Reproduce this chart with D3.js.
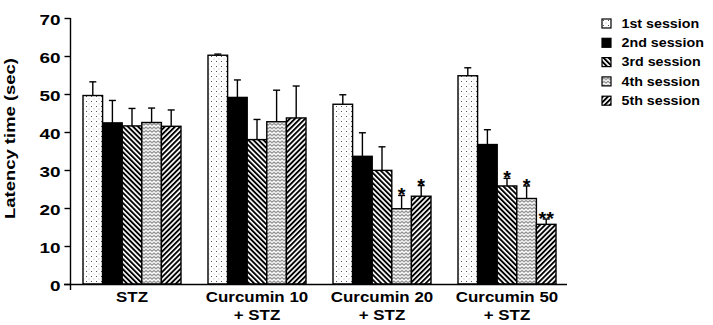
<!DOCTYPE html>
<html>
<head>
<meta charset="utf-8">
<script src="https://cdn.jsdelivr.net/npm/d3@7/dist/d3.min.js"></script>
<style>
  html, body { margin: 0; padding: 0; background: #fff; }
  svg { display: block; }
  text { font-family: "Liberation Sans", Arial, Helvetica, sans-serif; font-weight: bold; fill: #000; }
</style>
</head>
<body>
<svg id="chart" width="713" height="325"></svg>
<script>
// Treatment groups (x categories), two label lines each
const groups = ["STZ", "Curcumin 10", "Curcumin 20", "Curcumin 50"];
const groupSubLabels = ["", "+ STZ", "+ STZ", "+ STZ"];

// Training sessions (series)
const sessions = ["1st session", "2nd session", "3rd session", "4th session", "5th session"];

// Mean latency (sec) per session, one value per group
const session1 = [49.6, 60.2, 47.3, 54.8];
const session2 = [42.4, 49.1, 33.6, 36.7];
const session3 = [41.6, 38.0, 29.9, 25.8];
const session4 = [42.5, 42.7, 19.8, 22.5];
const session5 = [41.5, 43.7, 23.1, 15.7];

// Standard error per session, one value per group
const session1Err = [3.6, 0.3, 2.5, 2.1];
const session2Err = [5.9, 4.6, 6.2, 3.9];
const session3Err = [4.6, 5.3, 6.2, 2.0];
const session4Err = [3.8, 8.3, 3.5, 3.3];
const session5Err = [4.3, 8.4, 2.8, 1.4];

// Significance markers per session, one per group
const session1Sig = ["", "", "", ""];
const session2Sig = ["", "", "", ""];
const session3Sig = ["", "", "", "*"];
const session4Sig = ["", "", "*", "*"];
const session5Sig = ["", "", "*", "**"];

const yTicks = [0, 10, 20, 30, 40, 50, 60, 70];
const yLabel = "Latency time (sec)";

const means = [session1, session2, session3, session4, session5];
const errs = [session1Err, session2Err, session3Err, session4Err, session5Err];
const sigs = [session1Sig, session2Sig, session3Sig, session4Sig, session5Sig];
const fills = ["url(#pDots)", "#000", "url(#pBack)", "url(#pZig)", "url(#pFwd)"];

const rows = [];
sessions.forEach((s, si) => groups.forEach((g, gi) => rows.push({
  session: s, si, group: g, gi,
  mean: means[si][gi], err: errs[si][gi], sig: sigs[si][gi]
})));

const svg = d3.select("#chart");

// ---- fill patterns ----
const defs = svg.append("defs");
const pDots = defs.append("pattern").attr("id", "pDots")
  .attr("patternUnits", "userSpaceOnUse").attr("width", 5).attr("height", 5);
pDots.append("rect").attr("width", 5).attr("height", 5).attr("fill", "#fff");
pDots.append("rect").attr("x", 1).attr("y", 1).attr("width", 1).attr("height", 1).attr("fill", "#555");
pDots.append("rect").attr("x", 3.5).attr("y", 3.5).attr("width", 1).attr("height", 1).attr("fill", "#bbb");

function stripes(id, angle) {
  const p = defs.append("pattern").attr("id", id)
    .attr("patternUnits", "userSpaceOnUse").attr("width", 3.6).attr("height", 3.6)
    .attr("patternTransform", `rotate(${angle})`);
  p.append("rect").attr("width", 3.6).attr("height", 3.6).attr("fill", "#fff");
  p.append("rect").attr("x", 0).attr("y", 0).attr("width", 1.9).attr("height", 3.6).attr("fill", "#000");
}
stripes("pBack", -45);
stripes("pFwd", 45);

const pZig = defs.append("pattern").attr("id", "pZig")
  .attr("patternUnits", "userSpaceOnUse").attr("width", 4).attr("height", 3.5);
pZig.append("rect").attr("width", 4).attr("height", 3.5).attr("fill", "#fff");
pZig.append("path").attr("d", "M0,2.8 L2,0.9 L4,2.8").attr("fill", "none")
  .attr("stroke", "#808080").attr("stroke-width", 1.1);

// ---- scales ----
const x0 = d3.scaleBand().domain(groups).range([69.5, 569.5]).paddingInner(0.216).paddingOuter(0.108);
const x1 = d3.scaleBand().domain(sessions).range([0, x0.bandwidth()]);
const y = d3.scaleLinear().domain([0, 70]).range([284, 18]);

// Horizontal stretch helper for wide bold lettering
function widen(sel, factor) {
  sel.each(function () {
    const len = this.getComputedTextLength();
    d3.select(this).attr("textLength", len * factor).attr("lengthAdjust", "spacingAndGlyphs");
  });
}

// ---- y axis ----
const yAxis = svg.append("g").attr("transform", "translate(70.5,0)")
  .call(d3.axisLeft(y).tickValues(yTicks).tickFormat(d3.format("d")).tickSize(6).tickSizeOuter(0).tickPadding(4));
yAxis.select(".domain").remove();
yAxis.selectAll(".tick line").attr("stroke", "#000").attr("stroke-width", 1.4);
yAxis.selectAll(".tick text").attr("font-size", 15.5).attr("font-family", null).attr("dy", "0.42em");
widen(yAxis.selectAll(".tick text"), 1.22);
svg.append("line").attr("x1", 70.5).attr("x2", 70.5).attr("y1", y(70)).attr("y2", 290)
  .attr("stroke", "#000").attr("stroke-width", 1.4);

// Y title
const yt = svg.append("text").attr("transform", `translate(15,${138.5}) rotate(-90)`)
  .attr("text-anchor", "middle").attr("font-size", 15.5).text(yLabel);
widen(yt, 1.19);

// ---- bars ----
const gBars = svg.append("g");
gBars.selectAll("rect").data(rows).join("rect")
  .attr("x", d => x0(d.group) + x1(d.session))
  .attr("y", d => y(d.mean))
  .attr("width", x1.bandwidth())
  .attr("height", d => y(0) - y(d.mean))
  .attr("fill", d => fills[d.si])
  .attr("stroke", "#000").attr("stroke-width", 1.4);

// ---- error bars (upper only) ----
const gErr = svg.append("g").attr("stroke", "#000").attr("stroke-width", 1.4);
rows.forEach(d => {
  const cx = x0(d.group) + x1(d.session) + x1.bandwidth() / 2;
  gErr.append("line").attr("x1", cx).attr("x2", cx).attr("y1", y(d.mean)).attr("y2", y(d.mean + d.err));
  gErr.append("line").attr("x1", cx - 3.5).attr("x2", cx + 3.5).attr("y1", y(d.mean + d.err)).attr("y2", y(d.mean + d.err));
});

// ---- significance marks ----
const sigText = svg.append("g").selectAll("text").data(rows.filter(d => d.sig)).join("text")
  .attr("x", d => x0(d.group) + x1(d.session) + x1.bandwidth() / 2)
  .attr("y", d => y(d.mean + d.err) + 6)
  .attr("text-anchor", "middle").attr("font-size", 18)
  .text(d => d.sig);
widen(sigText, 1.1);

// ---- x axis ----
const xAxis = svg.append("g").attr("transform", `translate(0,${y(0)})`)
  .call(d3.axisBottom(x0).tickSize(0).tickSizeOuter(0).tickPadding(0));
xAxis.select(".domain").attr("d", "M64,0.5H567").attr("stroke", "#000").attr("stroke-width", 1.4);
xAxis.selectAll(".tick text").remove();
xAxis.selectAll(".tick").each(function (g, i) {
  const t = d3.select(this);
  const a = t.append("text").attr("text-anchor", "middle").attr("y", 17.5).attr("font-size", 15.5)
    .attr("font-family", null).text(g);
  widen(a, 1.09);
  if (groupSubLabels[i]) {
    const b = t.append("text").attr("text-anchor", "middle").attr("y", 36).attr("font-size", 15.5)
      .attr("font-family", null).text(groupSubLabels[i]);
    widen(b, 1.09);
  }
});

// ---- legend ----
const legend = svg.append("g").attr("transform", "translate(602,19)");
const li = legend.selectAll("g").data(sessions).join("g")
  .attr("transform", (d, i) => `translate(0,${i * 19.3})`);
li.append("rect").attr("width", 9).attr("height", 9)
  .attr("fill", (d, i) => fills[i]).attr("stroke", "#000").attr("stroke-width", 1.2);
const lt = li.append("text").attr("x", 19.5).attr("y", 8.6).attr("font-size", 12.5).text(d => d);
widen(lt, 1.14);
</script>
</body>
</html>
